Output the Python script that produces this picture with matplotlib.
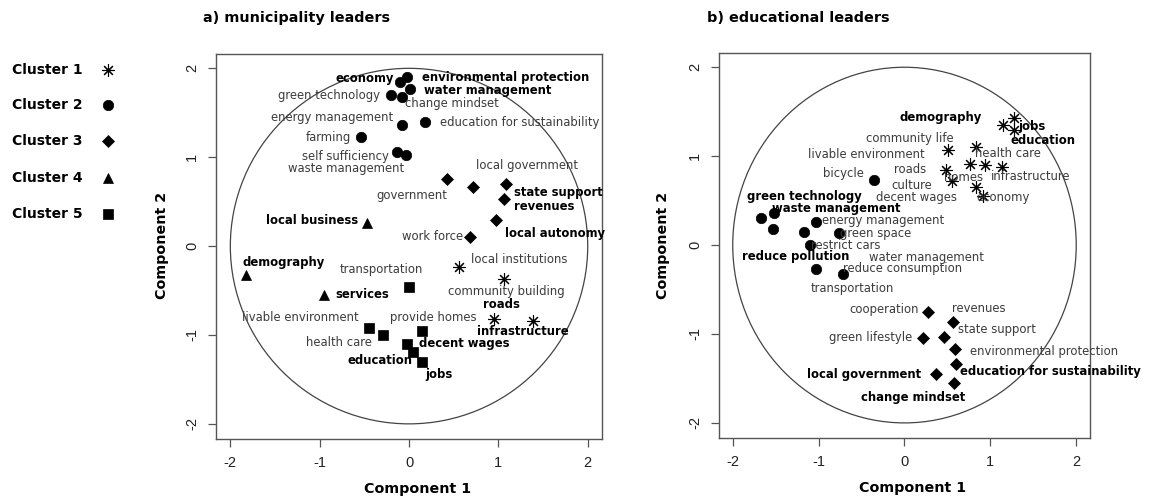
import matplotlib
matplotlib.use("Agg")
import matplotlib.pyplot as plt
from matplotlib.patches import Circle

# a) municipality leaders
mun_terms = [
    "economy", "environmental protection", "water management", "green technology",
    "change mindset", "energy management", "education for sustainability", "farming",
    "self sufficiency", "waste management",
    "government", "local government", "state support", "revenues", "local autonomy", "work force",
    "local business", "demography", "services",
    "local institutions", "community building", "roads", "infrastructure",
    "transportation", "livable environment", "health care", "provide homes",
    "decent wages", "education", "jobs",
]
mun_x = [-0.10, -0.02, 0.01, -0.20, -0.08, -0.08, 0.18, -0.54, -0.13, -0.03,
         0.42, 1.09, 1.06, 0.72, 0.97, 0.68,
         -0.47, -1.83, -0.95,
         0.56, 1.06, 0.95, 1.39,
         0.00, -0.45, -0.29, 0.14, -0.02, 0.05, 0.15]
mun_y = [1.85, 1.90, 1.77, 1.70, 1.68, 1.36, 1.40, 1.23, 1.06, 1.03,
         0.76, 0.70, 0.53, 0.67, 0.29, 0.10,
         0.26, -0.33, -0.55,
         -0.23, -0.37, -0.82, -0.84,
         -0.46, -0.92, -1.00, -0.95, -1.10, -1.19, -1.30]
mun_cluster = [2] * 10 + [3] * 6 + [4] * 3 + [1] * 4 + [5] * 7

# b) educational leaders
edu_terms = [
    "demography", "jobs", "education", "community life", "livable environment",
    "health care", "roads", "homes", "infrastructure", "culture", "decent wages", "economy",
    "bicycle", "green technology", "waste management", "energy management", "green space",
    "restrict cars", "reduce pollution", "water management", "reduce consumption", "transportation",
    "cooperation", "revenues", "state support", "green lifestyle", "environmental protection",
    "education for sustainability", "local government", "change mindset",
]
edu_x = [1.15, 1.28, 1.27, 0.83, 0.51, 0.94, 0.48, 0.76, 1.14, 0.55, 0.83, 0.91,
         -0.35, -1.67, -1.52, -1.03, -0.76, -1.10, -1.53, -1.17, -0.72, -1.03,
         0.27, 0.57, 0.46, 0.21, 0.59, 0.60, 0.37, 0.58]
edu_y = [1.35, 1.29, 1.43, 1.10, 1.07, 0.90, 0.84, 0.91, 0.88, 0.72, 0.65, 0.55,
         0.73, 0.31, 0.36, 0.26, 0.14, 0.00, 0.18, 0.15, -0.33, -0.27,
         -0.75, -0.86, -1.03, -1.05, -1.17, -1.34, -1.45, -1.55]
edu_cluster = [1] * 12 + [2] * 10 + [3] * 8

cluster_names = ["Cluster 1", "Cluster 2", "Cluster 3", "Cluster 4", "Cluster 5"]

# layout: label anchor (x, y, ha) and bold flag per term
mun_label_pos = [
    (-0.17, 1.88, "right"), (0.14, 1.90, "left"), (0.17, 1.75, "left"), (-0.32, 1.69, "right"),
    (-0.04, 1.60, "left"), (-0.18, 1.45, "right"), (0.35, 1.39, "left"), (-0.65, 1.22, "right"),
    (-0.23, 1.01, "right"), (-0.05, 0.87, "right"),
    (0.43, 0.57, "right"), (0.75, 0.91, "left"), (1.18, 0.60, "left"), (1.18, 0.45, "left"),
    (1.07, 0.14, "left"), (0.61, 0.11, "right"),
    (-0.57, 0.29, "right"), (-1.86, -0.19, "left"), (-0.82, -0.54, "left"),
    (0.69, -0.15, "left"), (1.09, -0.51, "center"), (1.03, -0.66, "center"), (1.27, -0.96, "center"),
    (-0.31, -0.26, "center"), (-1.22, -0.80, "center"), (-0.78, -1.09, "center"),
    (0.27, -0.80, "center"), (0.11, -1.10, "left"), (-0.33, -1.29, "center"), (0.34, -1.45, "center"),
]
mun_bold = {"economy", "environmental protection", "water management", "state support",
            "revenues", "local business", "local autonomy", "demography", "services",
            "roads", "infrastructure", "decent wages", "education", "jobs"}

edu_label_pos = [
    (0.90, 1.43, "right"), (1.33, 1.33, "left"), (1.24, 1.18, "left"), (0.06, 1.20, "center"),
    (-0.45, 1.02, "center"), (1.20, 1.03, "center"), (0.06, 0.85, "center"), (0.69, 0.76, "center"),
    (1.47, 0.77, "center"), (0.09, 0.67, "center"), (0.14, 0.53, "center"), (1.15, 0.54, "center"),
    (-0.71, 0.80, "center"), (-1.16, 0.55, "center"), (-0.80, 0.41, "center"), (-0.25, 0.275, "center"),
    (-0.34, 0.135, "center"), (-0.69, -0.005, "center"), (-1.27, -0.13, "center"), (0.25, -0.14, "center"),
    (-0.02, -0.26, "center"), (-0.61, -0.49, "center"),
    (-0.24, -0.73, "center"), (0.86, -0.71, "center"), (1.08, -0.95, "center"), (-0.40, -1.04, "center"),
    (1.63, -1.20, "center"), (1.70, -1.42, "center"), (-0.47, -1.46, "center"), (0.10, -1.71, "center"),
]
edu_bold = {"demography", "jobs", "education", "green technology", "waste management",
            "reduce pollution", "education for sustainability", "local government", "change mindset"}

markers = {1: (8, 2, 0), 2: "o", 3: "D", 4: "^", 5: "s"}
msizes = {1: 9, 2: 7.5, 3: 6, 4: 7.5, 5: 6.5}

plt.rcParams["font.family"] = ["DejaVu Sans"]
plt.rcParams["axes.unicode_minus"] = False

fig = plt.figure(figsize=(11.64, 5.01), dpi=100)


def draw_panel(ax, terms, xs, ys, clusters, label_pos, bold):
    ax.add_patch(Circle((0, 0), 2, fill=False, ec="#444444", lw=0.9))
    for c in sorted(set(clusters)):
        px = [x for x, k in zip(xs, clusters) if k == c]
        py = [y for y, k in zip(ys, clusters) if k == c]
        ax.plot(px, py, ls="none", marker=markers[c], ms=msizes[c],
                color="black", mec="black", mew=0.8 if c == 1 else 0.5)
    for t, (lx, ly, ha) in zip(terms, label_pos):
        b = t in bold
        ax.text(lx, ly, t, ha=ha, va="center", fontsize=8.4,
                fontweight="bold" if b else "normal",
                color="black" if b else "#3c3c3c")
    ax.set_xlim(-2.16, 2.16)
    ax.set_ylim(-2.17, 2.16)
    ax.set_xticks([-2, -1, 0, 1, 2])
    ax.set_yticks([-2, -1, 0, 1, 2])
    for s in ax.spines.values():
        s.set_color("#555555")
        s.set_linewidth(1.0)
    ax.tick_params(direction="out", length=6, width=0.9, color="#555555",
                   labelsize=10.5, pad=6, labelcolor="#222222")
    for lab in ax.get_xticklabels() + ax.get_yticklabels():
        lab.set_family("Liberation Sans")
    for lab in ax.get_yticklabels():
        lab.set_rotation(90)
        lab.set_va("center")


ax1 = fig.add_axes([0.1856, 0.1238, 0.3316, 0.7682])
draw_panel(ax1, mun_terms, mun_x, mun_y, mun_cluster, mun_label_pos, mun_bold)
ax2 = fig.add_axes([0.6177, 0.1257, 0.3187, 0.7685])
draw_panel(ax2, edu_terms, edu_x, edu_y, edu_cluster, edu_label_pos, edu_bold)

fig.text(0.1744, 0.964, "a) municipality leaders", fontsize=10.4, fontweight="bold", va="center")
fig.text(0.6074, 0.964, "b) educational leaders", fontsize=10.4, fontweight="bold", va="center")

fig.text(0.359, 0.024, "Component 1", fontsize=10.3, fontweight="bold", ha="center", va="center")
fig.text(0.784, 0.026, "Component 1", fontsize=10.3, fontweight="bold", ha="center", va="center")
fig.text(0.139, 0.51, "Component 2", fontsize=10.3, fontweight="bold", ha="center", va="center", rotation=90)
fig.text(0.570, 0.51, "Component 2", fontsize=10.3, fontweight="bold", ha="center", va="center", rotation=90)

# cluster legend
leg_y = [0.860, 0.790, 0.719, 0.645, 0.573]
for i, name in enumerate(cluster_names):
    c = i + 1
    fig.text(0.0103, leg_y[i], name, fontsize=10, fontweight="bold", va="center")
    fig.lines.append(matplotlib.lines.Line2D(
        [0.0928], [leg_y[i]], transform=fig.transFigure, ls="none",
        marker=markers[c], ms=msizes[c], color="black", mew=0.8 if c == 1 else 0.5))

fig.savefig("out.png", dpi=100)
